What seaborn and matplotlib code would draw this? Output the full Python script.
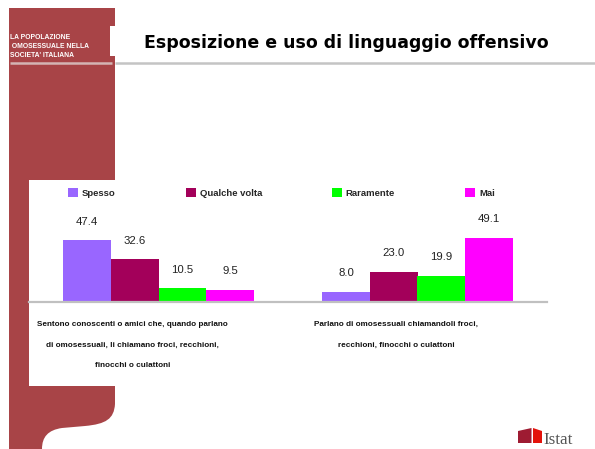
import matplotlib
matplotlib.use("Agg")
import matplotlib.pyplot as plt
import matplotlib.patches as mpatches
import matplotlib.transforms as mtransforms
from matplotlib.path import Path
import seaborn as sns
import pandas as pd

# ---------------- data ----------------
categories = [
    "Sentono conoscenti o amici che, quando parlano\ndi omosessuali, li chiamano froci, recchioni,\nfinocchi o culattoni",
    "Parlano di omosessuali chiamandoli froci,\nrecchioni, finocchi o culattoni",
]
frequencies = ["Spesso", "Qualche volta", "Raramente", "Mai"]
values_sentono = [47.4, 32.6, 10.5, 9.5]
values_parlano = [8.0, 23.0, 19.9, 49.1]
colors = ["#9966FF", "#A3005A", "#00FF00", "#FF00FF"]

title = "Esposizione e uso di linguaggio offensivo"
header = "LA POPOLAZIONE\n OMOSESSUALE NELLA\nSOCIETA' ITALIANA"

df = pd.DataFrame({
    "categoria": [categories[0]] * 4 + [categories[1]] * 4,
    "frequenza": frequencies * 2,
    "valore": values_sentono + values_parlano,
})

sns.set_theme(style="white")
plt.rcParams["font.family"] = ["Liberation Sans", "DejaVu Sans"]

W, H = 595, 449
fig = plt.figure(figsize=(W / 100, H / 100), dpi=100)
fig.patch.set_facecolor("white")

# ---------------- background decoration (pixel coords) ----------------
bg = fig.add_axes([0, 0, 1, 1], zorder=0)
bg.set_xlim(0, W)
bg.set_ylim(H, 0)
bg.axis("off")

red = "#A84447"
verts = [(9, 8), (115, 8), (115, 404),
         (114, 419), (106, 424), (85, 426),
         (62, 428),
         (48, 430), (42, 437), (42, 449),
         (9, 449), (9, 8)]
codes = [Path.MOVETO, Path.LINETO, Path.LINETO,
         Path.CURVE4, Path.CURVE4, Path.CURVE4,
         Path.LINETO,
         Path.CURVE4, Path.CURVE4, Path.CURVE4,
         Path.LINETO, Path.CLOSEPOLY]
bg.add_patch(mpatches.PathPatch(Path(verts, codes), facecolor=red, edgecolor="none"))
# white chart box and title box
bg.add_patch(mpatches.Rectangle((29, 180), 300, 206, facecolor="white", edgecolor="none"))
bg.add_patch(mpatches.Rectangle((110, 26), 485, 30, facecolor="white", edgecolor="none"))
# rule under title
bg.plot([10, 112], [62.5, 62.5], color="#D4B4B4", lw=1.8, solid_capstyle="butt")
bg.plot([115, 595], [62.5, 62.5], color="#C4C4C4", lw=1.8, solid_capstyle="butt")

bg.text(10, 46.5, header, color="white", fontsize=4.9, fontweight="bold",
        va="center", ha="left", linespacing=1.45)

t = bg.text(346, 48.5, title, color="black", fontsize=13, fontweight="bold",
            ha="center", va="baseline", family=["DejaVu Sans"])
fig.canvas.draw()
bb = t.get_window_extent()
t.set_fontsize(13 * 402 / bb.width)

# Istat logo
bg.add_patch(mpatches.Polygon([(518, 431), (531.5, 428), (531.5, 443), (518, 443)],
                              facecolor="#9E1B32", edgecolor="none"))
bg.add_patch(mpatches.Polygon([(533, 428), (542, 431), (542, 443), (533, 443)],
                              facecolor="#E3120B", edgecolor="none"))
bg.text(543, 443.5, "Istat", fontsize=12.3, color="#555555", family=["Liberation Serif"],
        ha="left", va="baseline")

# ---------------- chart ----------------
ax_left, ax_right, ax_top, ax_bottom = 29, 547, 180, 302
ax = fig.add_axes([ax_left / W, 1 - ax_bottom / H, (ax_right - ax_left) / W,
                   (ax_bottom - ax_top) / H], zorder=2)
ax.patch.set_alpha(0)

sns.barplot(data=df, x="categoria", y="valore", hue="frequenza",
            hue_order=frequencies, order=categories, palette=colors,
            width=0.735, gap=0, saturation=1, ax=ax, legend=False,
            linewidth=0, edgecolor="none")

ax.set_xlim(-0.5, 1.5)
ax.set_ylim(0, 122 / 1.308)
ax.set_xlabel("")
ax.set_ylabel("")
ax.set_yticks([])
for s in ["top", "right", "left"]:
    ax.spines[s].set_visible(False)
ax.spines["bottom"].set_color("#C0C0C0")
ax.spines["bottom"].set_linewidth(1.6)

for cont in ax.containers:
    ax.bar_label(cont, fmt="%.1f", padding=9.7, fontsize=8.2, color="#222222")

ax.tick_params(axis="x", length=0, pad=13.5)
offsets = [-26, -21]
for lab, dx in zip(ax.get_xticklabels(), offsets):
    lab.set_fontsize(5.9)
    lab.set_fontweight("bold")
    lab.set_color("#111111")
    lab.set_linespacing(3.75)
    lab.set_multialignment("center")
    lab.set_transform(lab.get_transform() +
                      mtransforms.ScaledTranslation(dx / 100, 0, fig.dpi_scale_trans))

handles = [mpatches.Patch(facecolor=c, edgecolor="none") for c in colors]
fig.legend(handles, frequencies, loc="upper left",
           bbox_to_anchor=(68 / W, 1 - 188 / H), ncol=4, frameon=False,
           borderpad=0, borderaxespad=0, handlelength=1.06, handleheight=1.06,
           handletextpad=0.42, columnspacing=7.4,
           prop={"weight": "bold", "size": 6.8})

fig.savefig("out.png", dpi=100)
